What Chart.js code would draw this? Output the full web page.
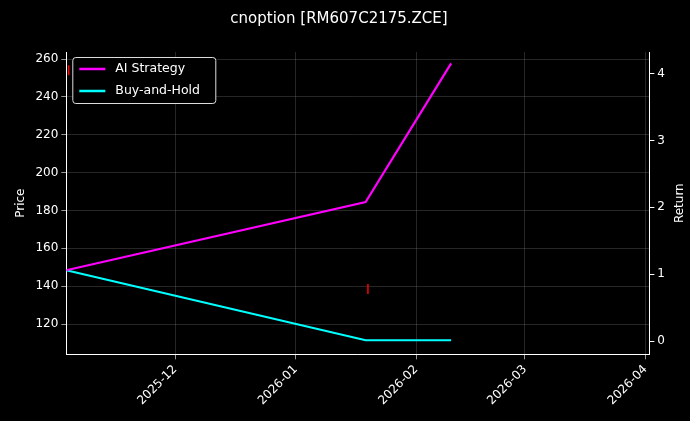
<!DOCTYPE html>
<html><head><meta charset="utf-8">
<script src="https://cdn.jsdelivr.net/npm/chart.js@4/dist/chart.umd.min.js"></script>
<style>html,body{margin:0;background:#000;}#w{width:690px;height:421px;}</style>
</head><body><div id="w"><canvas id="c"></canvas></div>
<script>
const dates = ['2025-11-03','2026-01-19','2026-02-10'];
const aiReturn = [1.06, 2.08, 4.15];
const bhReturn = [1.06, 0.015, 0.015];
const signalDates = ['2025-11-03','2026-01-19'];
const signalPrice = [254, 138.5];
const tickMonths = ['2025-12','2026-01','2026-02','2026-03','2026-04'];
const xMinDate = '2025-11-03', xMaxDate = '2026-04-02';

const day = s => Date.UTC(+s.slice(0,4), +s.slice(5,7)-1, s.length>7?+s.slice(8,10):1)/86400000;
const fmt = v => { const d=new Date(v*86400000); return d.getUTCFullYear()+'-'+String(d.getUTCMonth()+1).padStart(2,'0'); };
const font = {family:'DejaVu Sans', size:12};
const grid = {color:'rgba(128,128,128,0.5)', lineWidth:0.6, tickColor:'#fff', tickLength:5, drawTicks:true};

const legendPlugin = {id:'lg', afterDraw(ch){
  const c=ch.ctx, a=ch.chartArea, x=a.left+6, y=a.top+5;
  c.save();
  c.fillStyle='#000'; c.strokeStyle='#ddd'; c.lineWidth=1;
  c.beginPath(); c.roundRect(x+0.5,y+0.5,143,46,3); c.fill(); c.stroke();
  const items=[['AI Strategy','#ff00ff'],['Buy-and-Hold','#00ffff']];
  c.font='12.5px DejaVu Sans'; c.textBaseline='middle';
  items.forEach((it,i)=>{const yy=y+12+i*22;
    c.strokeStyle=it[1]; c.lineWidth=2.5; c.beginPath(); c.moveTo(x+7,yy); c.lineTo(x+33,yy); c.stroke();
    c.fillStyle='#fff'; c.fillText(it[0],x+43,yy);});
  // right axis title, reading bottom-to-top
  const a2=ch.chartArea; c.translate(ch.width-10,(a2.top+a2.bottom)/2); c.rotate(-Math.PI/2);
  c.font='12px DejaVu Sans'; c.textAlign='center'; c.fillStyle='#fff'; c.fillText('Return',0,0);
  c.restore();
}};
const bgPlugin = {id:'bg', beforeDraw(ch){const c=ch.ctx;c.save();c.fillStyle='#000';c.fillRect(0,0,ch.width,ch.height);c.restore();}};

new Chart(document.getElementById('c'), {
  type:'line',
  data:{datasets:[
    {label:'AI Strategy', data:dates.map((d,i)=>({x:day(d),y:aiReturn[i]})), borderColor:'#ff00ff', borderWidth:2.2, pointRadius:0, yAxisID:'y1'},
    {label:'Buy-and-Hold', data:dates.map((d,i)=>({x:day(d),y:bhReturn[i]})), borderColor:'#00ffff', borderWidth:2.2, pointRadius:0, yAxisID:'y1'},
    {label:'signal', type:'scatter', data:signalDates.map((d,i)=>({x:day(d)+0.6,y:signalPrice[i]})), borderColor:'#ff0000', backgroundColor:'#ff0000', pointStyle:'line', rotation:90, pointRadius:5, borderWidth:1.5, yAxisID:'y'}
  ]},
  options:{responsive:true, maintainAspectRatio:false, animation:false,
    layout:{padding:{left:10,right:22,top:0,bottom:10}},
    plugins:{legend:{display:false}, tooltip:{enabled:false},
      title:{display:true, text:'cnoption [RM607C2175.ZCE]', color:'#fff', font:{family:'DejaVu Sans', size:15, weight:'normal'}, padding:{top:10,bottom:24}}},
    scales:{
      x:{type:'linear', min:day(xMinDate), max:day(xMaxDate),
        afterBuildTicks(s){s.ticks=tickMonths.map(m=>({value:day(m)}));},
        ticks:{color:'#fff', font, callback:v=>fmt(v), maxRotation:45, minRotation:45, autoSkip:false},
        grid, border:{color:'#fff'}},
      y:{position:'left', min:104, max:263.7,
        afterBuildTicks(s){s.ticks=[120,140,160,180,200,220,240,260].map(v=>({value:v}));},
        ticks:{color:'#fff', font}, grid, border:{color:'#fff'},
        title:{display:true, text:'Price', color:'#fff', font}},
      y1:{position:'right', min:-0.196, max:4.32,
        afterBuildTicks(s){s.ticks=[0,1,2,3,4].map(v=>({value:v}));},
        ticks:{color:'#fff', font}, grid:{drawOnChartArea:false, tickColor:'#fff', tickLength:5}, border:{color:'#fff'}}
    }
  },
  plugins:[bgPlugin, legendPlugin]
});
</script></body></html>
